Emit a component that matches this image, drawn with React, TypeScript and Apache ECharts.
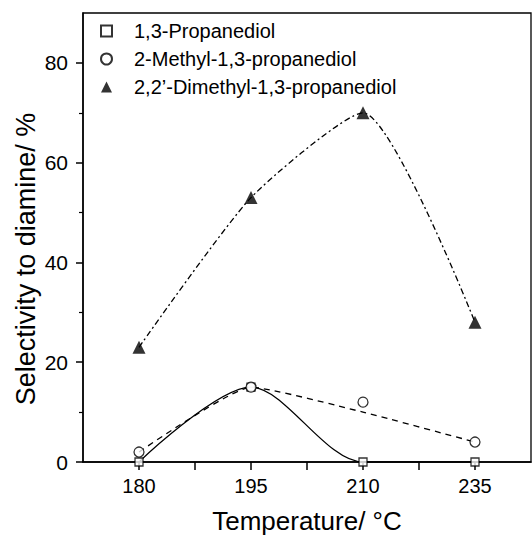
import React, { useEffect, useRef } from "react";
import * as echarts from "echarts";

const temperatures = ["180", "195", "210", "235"];
const propanediol = [0, 15, 0, 0];
const methylPropanediol = [2, 15, 12, 4];
const methylFit = [2, 15, 10, 4];
const dimethylPropanediol = [23, 53, 70, 28];
const yLabelTicks = [0, 20, 40, 60, 80];
const yMinorTicks = [10, 30, 50, 70];
const xTicks = [0, 0.5, 1, 1.5, 2, 2.5, 3];

const FONT = '"Liberation Sans", Arial, Helvetica, sans-serif';

const pts = (arr: number[]) => arr.map((v, i) => [i, v]);

export default function App() {
  const ref = useRef<HTMLDivElement>(null);
  useEffect(() => {
    document.body.style.margin = "0";
    const chart = echarts.init(ref.current!, null, { renderer: "svg" });
    const option: any = {
      animation: false,
      backgroundColor: "#fff",
      textStyle: { fontFamily: FONT, color: "#000" },
      grid: {
        left: 83,
        right: 1,
        top: 13,
        bottom: 73,
        show: true,
        borderColor: "#000",
        borderWidth: 1.3,
      },
      legend: {
        orient: "vertical",
        left: 95,
        top: 16,
        itemWidth: 11,
        itemHeight: 11,
        itemGap: 8,
        data: ["1,3-Propanediol", "2-Methyl-1,3-propanediol", "2,2’-Dimethyl-1,3-propanediol"],
        formatter: (name: string) => `{p| }${name}`,
        textStyle: {
          fontSize: 20,
          color: "#000",
          fontFamily: FONT,
          lineHeight: 20,
          rich: { p: { width: 17, fontSize: 20, lineHeight: 20 } },
        },
      },
      xAxis: {
        type: "value",
        min: -0.5,
        max: 3.5,
        name: "Temperature/ °C",
        nameLocation: "middle",
        nameGap: 46,
        nameTextStyle: { fontSize: 26, color: "#000", fontFamily: FONT },
        axisLine: { show: true, onZero: false, lineStyle: { color: "#000", width: 1.5 } },
        axisTick: { show: true, customValues: xTicks, length: 8, lineStyle: { color: "#000", width: 1.5 } },
        axisLabel: {
          customValues: [0, 1, 2, 3],
          formatter: (v: number) => temperatures[Math.round(v)] ?? "",
          fontSize: 20,
          color: "#000",
          margin: 14,
          fontFamily: FONT,
        },
        splitLine: { show: false },
      },
      yAxis: [
        {
          type: "value",
          min: 0,
          max: 90,
          position: "left",
          axisLine: { show: true, onZero: false, lineStyle: { color: "#000", width: 1.5 } },
          axisTick: { show: true, customValues: yLabelTicks, length: 7, lineStyle: { color: "#000", width: 1.5 } },
          axisLabel: { customValues: yLabelTicks, fontSize: 21, color: "#000", margin: 15, fontFamily: FONT },
          splitLine: { show: false },
        },
        {
          type: "value",
          min: 0,
          max: 90,
          position: "left",
          axisLine: { show: false, onZero: false },
          axisTick: { show: true, customValues: yMinorTicks, length: 4, lineStyle: { color: "#000", width: 1.2 } },
          axisLabel: { show: false },
          splitLine: { show: false },
        },
      ],
      graphic: [
        {
          type: "text",
          x: 26,
          y: 259,
          rotation: Math.PI / 2,
          style: {
            text: "Selectivity to diamine/ %",
            font: `27px ${FONT}`,
            fill: "#000",
            align: "center",
            verticalAlign: "middle",
          },
        },
      ],
      series: [
        {
          type: "line",
          data: pts(propanediol),
          smooth: 0.3,
          showSymbol: false,
          lineStyle: { color: "#000", width: 1.3, type: "solid" },
          z: 2,
        },
        {
          type: "line",
          data: pts(methylFit),
          smooth: 0.15,
          showSymbol: false,
          lineStyle: { color: "#000", width: 1.3, type: [6, 5] },
          z: 2,
        },
        {
          type: "line",
          data: pts(dimethylPropanediol),
          smooth: 0.2,
          showSymbol: false,
          lineStyle: { color: "#000", width: 1.3, type: [6, 3, 2, 3] },
          z: 2,
        },
        {
          name: "1,3-Propanediol",
          type: "scatter",
          data: pts(propanediol),
          symbol: "rect",
          symbolSize: 8,
          clip: false,
          itemStyle: { color: "#fff", borderColor: "#000", borderWidth: 1.3 },
          z: 5,
        },
        {
          name: "2-Methyl-1,3-propanediol",
          type: "scatter",
          data: pts(methylPropanediol),
          symbol: "circle",
          symbolSize: 10,
          clip: false,
          itemStyle: { color: "#fff", borderColor: "#000", borderWidth: 1.3 },
          z: 5,
        },
        {
          name: "2,2’-Dimethyl-1,3-propanediol",
          type: "scatter",
          data: pts(dimethylPropanediol),
          symbol: "triangle",
          symbolSize: 13,
          clip: false,
          itemStyle: { color: "#000", borderColor: "#000", borderWidth: 0 },
          z: 5,
        },
      ],
    };
    chart.setOption(option);
    return () => chart.dispose();
  }, []);
  return (
    <div
      ref={ref}
      style={{ position: "fixed", left: 0, top: 0, width: 532, height: 539, background: "#fff" }}
    />
  );
}
